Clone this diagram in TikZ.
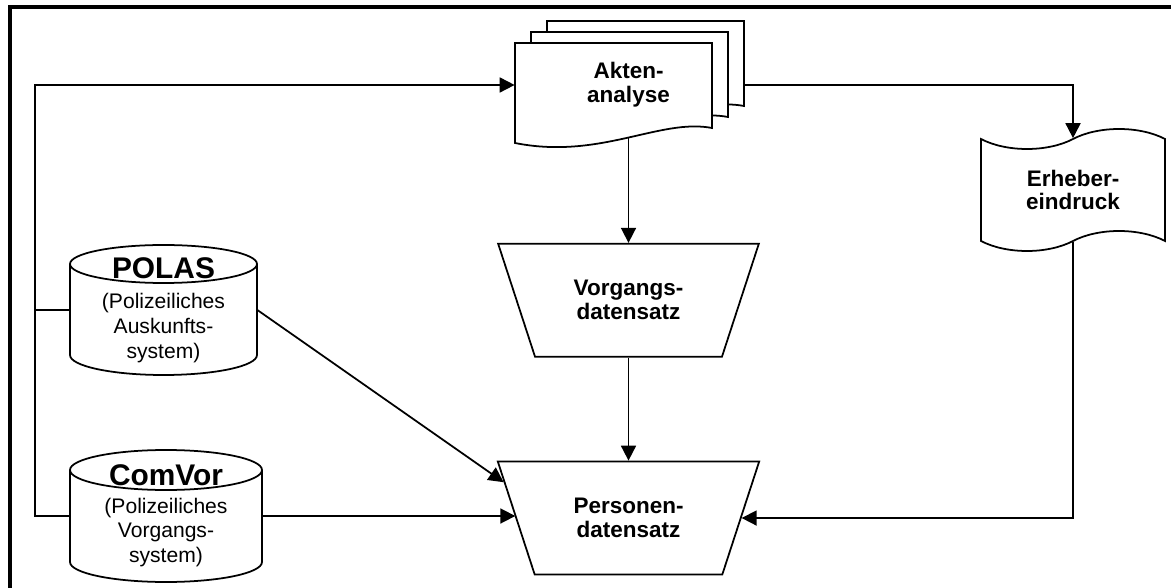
\documentclass[tikz,border=0pt]{standalone}
\usepackage{fontspec}
\setmainfont{Liberation Sans}
\usetikzlibrary{arrows.meta,shapes.geometric,shapes.symbols,positioning,backgrounds}

\begin{document}
\begin{tikzpicture}[
    wire/.style={line width=1pt},
    shp/.style={draw, line width=1pt, fill=white},
    lbl/.style={align=center, font=\fontsize{12.8}{13.6}\selectfont\bfseries},
    dbtext/.style={align=center, inner sep=0pt, font=\fontsize{12}{14.2}\selectfont},
    trap/.style={shp, lbl, trapezium, shape border rotate=180,
                 trapezium angle=65, trapezium stretches=true,
                 minimum width=5.26cm, minimum height=2.26cm},
    arr/.style={wire, -{Triangle[length=0.3cm,width=0.3cm]}},
  ]
    \useasboundingbox (0,0) rectangle (23.42,-11.76);
    \draw[line width=0.08cm] (0.2,-11.8) -- (0.2,-0.14) -- (23.5,-0.14);

    % Aktenstapel
    \foreach \s in {2,1,0}
      \draw[shp, shift={({0.32*\s},{0.22*\s})}] (10.3,-0.86) -- (14.24,-0.86) -- (14.24,-2.56)
        .. controls (13.2,-2.36) and (12.0,-3.2) .. (10.3,-2.86) -- cycle;

    % Datenbanken
    \draw[shp] (1.4,-5.28) -- (1.4,-7.1) arc[start angle=180, end angle=360, x radius=1.87cm, y radius=0.4cm] -- (5.14,-5.28);
    \draw[shp] (3.27,-5.28) ellipse[x radius=1.87cm, y radius=0.38cm];
    \draw[shp] (1.4,-9.4) -- (1.4,-11.24) arc[start angle=180, end angle=360, x radius=1.92cm, y radius=0.4cm] -- (5.24,-9.4);
    \draw[shp] (3.32,-9.4) ellipse[x radius=1.92cm, y radius=0.4cm];

    \node[lbl, minimum width=4.54cm, minimum height=1.7cm] (A) at (12.57,-1.7) {Akten-\\analyse};
    \node[trap, below=2.3cm of A] (V) {Vorgangs-\\datensatz};
    \node[trap, below=2.06cm of V] (P) {Personen-\\datensatz};
    \node[shp, lbl, tape, minimum width=3.68cm, minimum height=2.44cm,
          tape bend height=0.4cm] (E) at (21.46,-3.8) {Erheber-\\eindruck};
    \node[dbtext, minimum width=3.74cm, minimum height=2.6cm] (L) at (3.27,-6.2)
      {{\fontsize{17}{19}\selectfont\bfseries POLAS}\\[0.1cm](Polizeiliches\\Auskunfts-\\system)};
    \node[dbtext, minimum width=3.84cm, minimum height=2.64cm] (C) at (3.32,-10.32)
      {{\fontsize{17}{19}\selectfont\bfseries ComVor}\\[0.05cm](Polizeiliches\\Vorgangs-\\system)};
    \coordinate (bus) at (0.7,-1.7);

    \begin{pgfonlayer}{background}
      \draw[arr] (C.west) -| (bus) -- (A.west);
      \draw[wire] (L.west) -- (L.west -| bus);
      \draw[arr] (A.east) -| (E.north);
      \draw[arr] (A.south) -- (V.north);
      \draw[arr] (V.south) -- (P.north);
      \draw[arr] (L.east) -- (P.164);
      \draw[arr] (C.east) -- (C.east -| P.west);
      \draw[arr] (E.south) |- (P.east);
    \end{pgfonlayer}
\end{tikzpicture}
\end{document}
